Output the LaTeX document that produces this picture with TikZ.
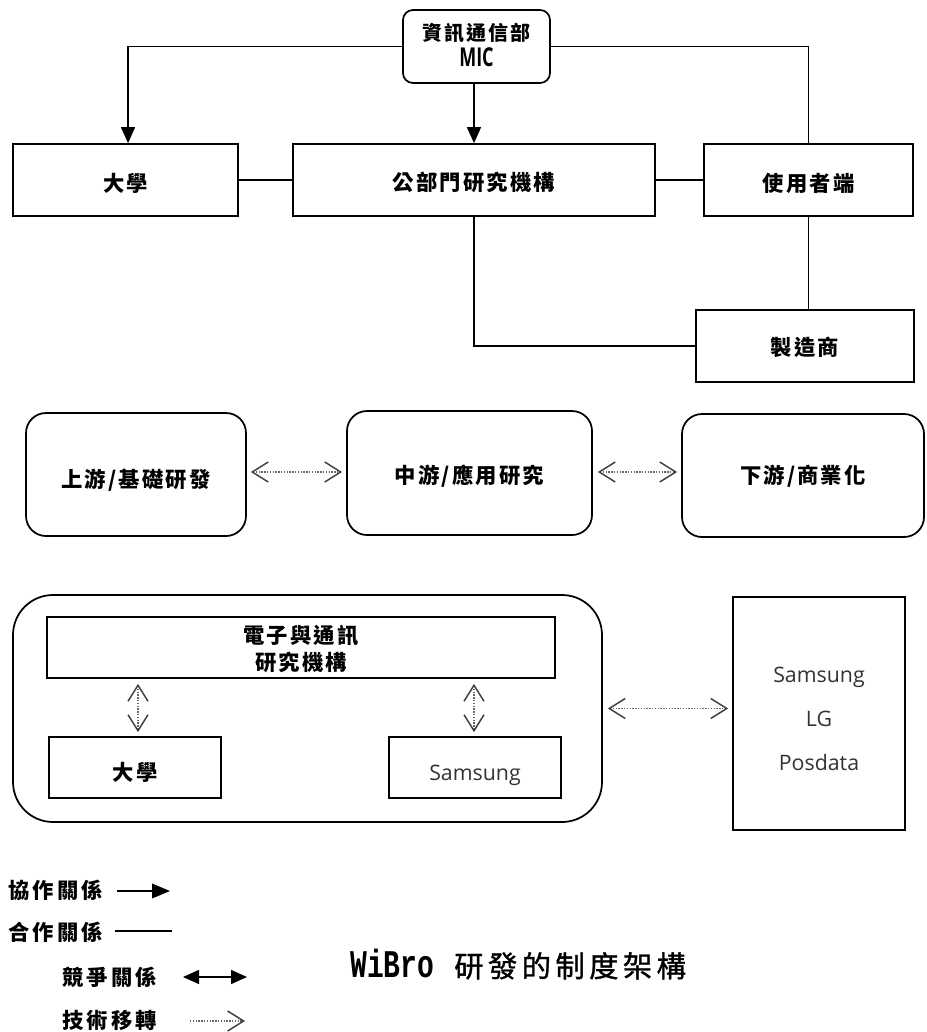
\documentclass[tikz,border=0pt]{standalone}
\usepackage{fontspec}
\usepackage{graphicx}
\usetikzlibrary{arrows.meta,calc}
\newfontfamily\cjk[LetterSpace=10]{Noto Sans CJK TC}
\newfontfamily\cjkleg[LetterSpace=15]{Noto Sans CJK TC}
\newfontfamily\cjktitle[LetterSpace=15,FakeBold=1.2]{Noto Sans CJK TC}
\newfontfamily\latinsans{Open Sans}
\newfontfamily\titlemono{Liberation Mono}
\tikzset{
  chev/.tip={Straight Barb[length=12pt,width=15pt,line width=1.1pt,color=black!75]},
  wh/.style 2 args={minimum width=#1*0.75pt, minimum height=#2*0.75pt},
  box/.style={draw, line width=1.3pt, inner sep=0pt,
    font=\cjk\bfseries\fontsize{16}{20}\selectfont, text height=16.7pt, text depth=0pt},
  tht/.style={text height=#1, text depth=0pt},
  tdp/.style={text height=0pt, text depth=#1},
  rbox/.style={box, rounded corners=15pt},
  conn/.style={line width=1.1pt},
  arr/.style={conn, -{Triangle[length=12pt,width=10.5pt]}},
  tt/.style={densely dotted, line width=1.1pt, black!60, chev-chev},
  sam/.style={font=\latinsans\fontsize{16}{33}\selectfont, text=black!80},
  legend/.style={anchor=base west, inner sep=0pt, font=\cjkleg\bfseries\fontsize{16}{18}\selectfont}
}
\begin{document}
\begin{tikzpicture}[x=0.75pt,y=-0.75pt]
\useasboundingbox[fill=white] (0,0) rectangle (926,1032);
% top section
\node[box, rounded corners=7.5pt, wh={147}{73}, tdp=8.85pt,
  font=\cjk\bfseries\fontsize{15}{18.75}\selectfont] (mic) at (476.5,46.5)
  {\begin{tabular}[t]{@{}c@{}}資訊通信部\\\scalebox{0.9}[1.3]{\latinsans\bfseries MIC}\end{tabular}};
\node[box, wh={225}{72}] (uni) at (125.5,180) {大學};
\node[box, wh={362}{72}, tht=15.2pt] (pub) at (474,180) {公部門研究機構};
\node[box, wh={209}{72}] (user) at (808.5,180) {使用者端};
\node[box, wh={218}{72}, tht=13.7pt] (mfr) at (805,346) {製造商};
\draw[arr] (mic.west) -| ([xshift=1.9pt]uni.north);
\draw[arr] (pub.north |- mic.south) -- (pub.north);
\draw[conn] (mic.east) -| (user.north);
\draw[conn] (uni.east) -- (pub.west);
\draw[conn] (pub.east) -- (user.west);
\draw[conn] (user.south) -- (user.south |- mfr.north);
\draw[conn] (pub.south) |- (mfr.west);
% middle section
\node[rbox, wh={220}{123}, tht=19.7pt] (up) at (136,474.5) {上游/基礎研發};
\node[rbox, wh={245}{124}, tht=15.2pt] (mid) at (469.5,473) {中游/應用研究};
\node[rbox, wh={242}{123}, tht=12.2pt] (down) at (803,475.5) {下游/商業化};
\draw[tt] ($(up.east)+(4,-2.5)$) -- ($(up.east -| mid.west)+(-4,-2.5)$);
\draw[tt] ($(mid.east)+(5,-1)$) -- ($(mid.east -| down.west)+(-4,-1)$);
% bottom section
\node[rbox, rounded corners=30pt, wh={589}{227}] (outer) at (307.5,708.5) {};
\node[box, wh={508}{61}, tdp=6.6pt,
  font=\cjk\bfseries\fontsize{16}{20.25}\selectfont] (ecri) at (301,647.5)
  {\begin{tabular}[t]{@{}c@{}}電子與通訊\\研究機構\end{tabular}};
\node[box, wh={172}{61}, tht=18.9pt] (uni2) at (135,767.5) {大學};
\node[box, wh={172}{61}, sam, tht=18.8pt] (sam1) at (475,767.5) {Samsung};
\node[box, wh={172}{233}, sam, tdp=47.25pt] (cos) at (819,713.5)
  {\begin{tabular}[t]{@{}c@{}}Samsung\\LG\\Posdata\end{tabular}};
\draw[tt] ($(uni2.north |- ecri.south)+(3,5)$) -- ($(uni2.north)+(3,-4)$);
\draw[tt] ($(sam1.north |- ecri.south)+(-1,5)$) -- ($(sam1.north)+(-1,-4)$);
\draw[tt] ($(outer.east)+(5,0)$) -- ($(outer.east -| cos.west)+(-4,0)$);
% legend
\node[legend] (l1) at (8,898) {協作關係};
\node[legend] (l2) at (8,940) {合作關係};
\node[legend] (l3) at (62,985) {競爭關係};
\node[legend] (l4) at (62,1028) {技術移轉};
\coordinate (a1s) at (117,891);
\coordinate (a1e) at (170,891);
\coordinate (a2s) at (115,931);
\coordinate (a2e) at (172,931);
\coordinate (a3s) at (183,977);
\coordinate (a3e) at (247,977);
\coordinate (a4s) at (190,1021);
\coordinate (a4e) at (245,1021);
\draw[conn, -{Triangle[length=13.5pt,width=11pt]}] (a1s) -- (a1e);
\draw[conn] (a2s) -- (a2e);
\draw[conn, {Triangle[length=12pt,width=10.5pt]}-{Triangle[length=12pt,width=10.5pt]}] (a3s) -- (a3e);
\draw[densely dotted, line width=1.1pt, black!60, -chev] (a4s) -- (a4e);
% title
\node[anchor=base west, inner sep=0pt] (title) at (350,977)
  {\scalebox{1}[1.4]{\fontsize{21}{24}\selectfont\titlemono\bfseries WiBro}\hspace{15pt}{\fontsize{22}{26}\selectfont\cjktitle 研發的制度架構}};
\end{tikzpicture}
\end{document}
